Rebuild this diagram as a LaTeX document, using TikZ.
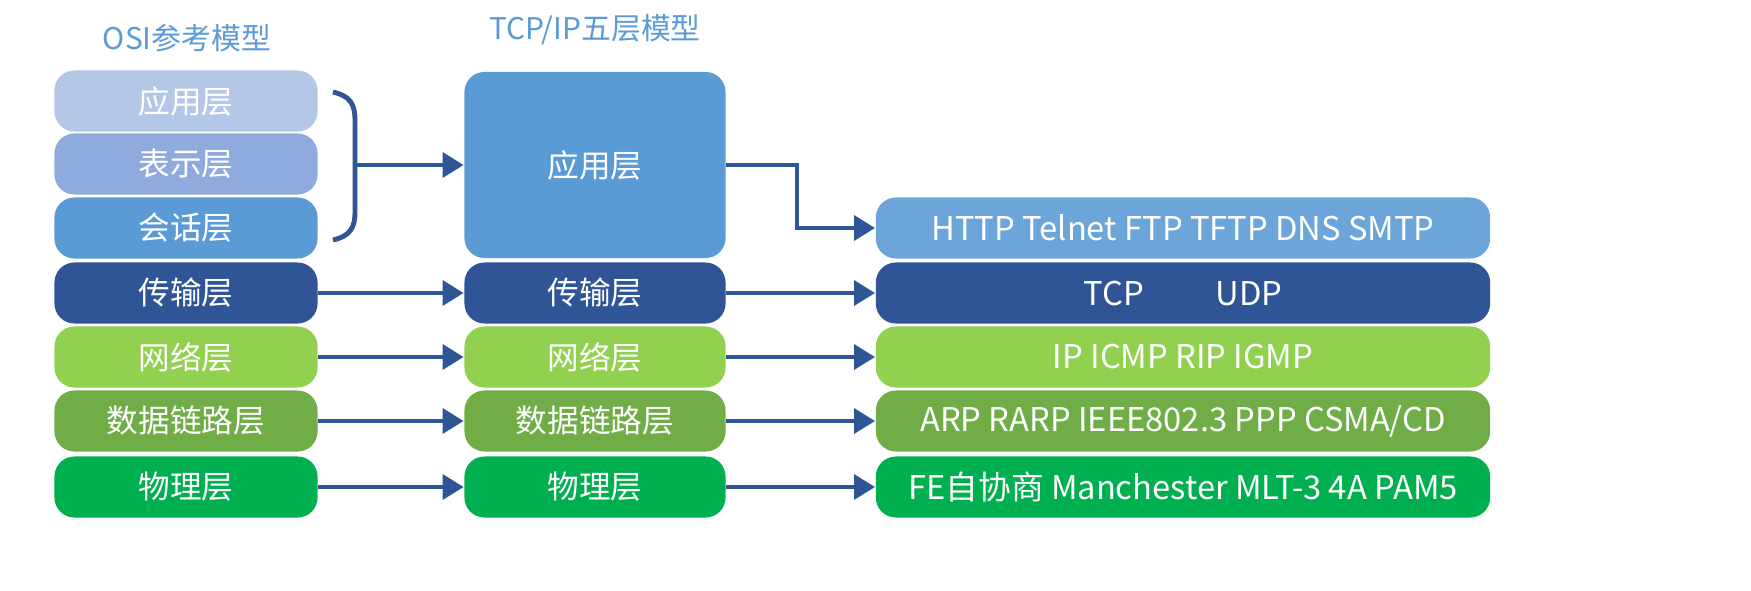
\documentclass[tikz,border=0pt]{standalone}
\usepackage{fontspec}
\setmainfont{Noto Sans CJK SC}
\usetikzlibrary{arrows.meta}
\definecolor{cA}{HTML}{B4C7E7}
\definecolor{cB}{HTML}{8FAADC}
\definecolor{cC}{HTML}{5B9BD5}
\definecolor{cD}{HTML}{2F5597}
\definecolor{cE}{HTML}{92D050}
\definecolor{cF}{HTML}{70AD47}
\definecolor{cG}{HTML}{00B050}
\definecolor{arr}{HTML}{2F5597}
\tikzset{
 layer/.style={rounded corners=0.2cm, minimum height=0.61cm, text=white, font=\fontsize{9}{10}\selectfont, inner sep=0pt},
 osi/.style={layer, minimum width=2.63cm},
 mid/.style={layer, minimum width=2.61cm},
 rgt/.style={layer, minimum width=6.14cm, font=\fontsize{9.3}{10}\selectfont},
 con/.style={draw=arr, line width=1.3pt, -{Triangle[length=6pt,width=7pt]}},
 ttl/.style={text=cC, font=\fontsize{8.5}{10}\selectfont}
}
\begin{document}
\begin{tikzpicture}[x=0.01cm,y=-0.01cm]
\useasboundingbox (0,0) rectangle (1751,590);
\node[ttl] (t1) at (187,38) {OSI参考模型};
\node[ttl] (t2) at (595,30) {TCP/IP五层模型};
% OSI
\node[osi, fill=cA] (o1) at (186,101) {应用层};
\node[osi, fill=cB] (o2) at (186,164) {表示层};
\node[osi, fill=cC] (o3) at (186,228) {会话层};
\node[osi, fill=cD] (o4) at (186,293) {传输层};
\node[osi, fill=cE] (o5) at (186,357) {网络层};
\node[osi, fill=cF] (o6) at (186,421) {数据链路层};
\node[osi, fill=cG] (o7) at (186,487) {物理层};
% middle
\node[layer, fill=cC, minimum width=2.61cm, minimum height=1.86cm] (m1) at (595,165) {应用层};
\node[mid, fill=cD] (m4) at (595,293) {传输层};
\node[mid, fill=cE] (m5) at (595,357) {网络层};
\node[mid, fill=cF] (m6) at (595,421) {数据链路层};
\node[mid, fill=cG] (m7) at (595,487) {物理层};
% right
\node[rgt, fill=cC!90!white] (r1) at (1183,228) {HTTP Telnet FTP TFTP DNS SMTP};
\node[rgt, fill=cD] (r4) at (1183,293) {TCP\hspace{2.2em}UDP};
\node[rgt, fill=cE] (r5) at (1183,357) {IP ICMP RIP IGMP};
\node[rgt, fill=cF] (r6) at (1183,421) {ARP RARP IEEE802.3 PPP CSMA/CD};
\node[rgt, fill=cG] (r7) at (1183,487) {FE自协商 Manchester MLT-3 4A PAM5};
% brace
\coordinate (b1) at (333,92);
\coordinate (b2) at (333,240);
\coordinate (bm) at (355,165);
\draw[arr, line width=1.4pt] (b1) .. controls (350,96) and (355,104) .. (355,120) -- (355,212) .. controls (355,228) and (350,236) .. (b2);
\draw[con] (bm) -- (m1.west);
\foreach \i in {4,5,6,7} {
 \draw[con] (o\i) -- (m\i);
 \draw[con] (m\i) -- (r\i);
}
\draw[con] (m1.east) -- (797,165) |- (r1.west);
\end{tikzpicture}
\end{document}
